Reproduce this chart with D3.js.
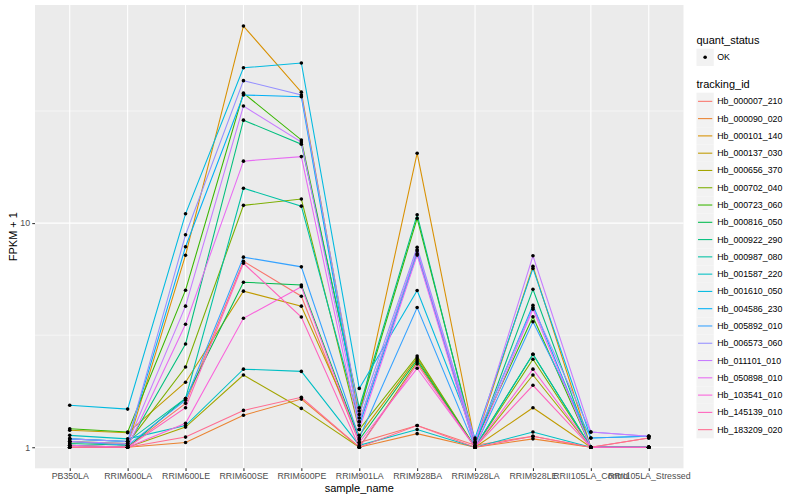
<!DOCTYPE html>
<html><head><meta charset="utf-8">
<script src="https://cdn.jsdelivr.net/npm/d3@7"></script>
<style>body{margin:0;background:#fff}svg text{font-family:"Liberation Sans",Arial,Helvetica,sans-serif}</style>
</head><body><svg id="chart" width="800" height="500"></svg>
<script>
const samples = ["PB350LA","RRIM600LA","RRIM600LE","RRIM600SE","RRIM600PE","RRIM901LA","RRIM928BA","RRIM928LA","RRIM928LE","RRII105LA_Control","RRII105LA_Stressed"];
const trackingIds = ["Hb_000007_210","Hb_000090_020","Hb_000101_140","Hb_000137_030","Hb_000656_370","Hb_000702_040","Hb_000723_060","Hb_000816_050","Hb_000922_290","Hb_000987_080","Hb_001587_220","Hb_001610_050","Hb_004586_230","Hb_005892_010","Hb_006573_060","Hb_011101_010","Hb_050898_010","Hb_103541_010","Hb_145139_010","Hb_183209_020"];
// FPKM + 1, one row per tracking_id, columns follow samples
const fpkmPlus1 = [
  [1.02,1.00,1.57, 6.76, 4.72,1.05,1.25,1.02,1.12,1.00,1.10],
  [1.00,1.00,1.05, 1.39, 1.64,1.00,1.15,1.00,1.09,1.00,1.00],
  [1.06,1.02,7.19,75.70,38.40,1.35,20.5,1.05,6.42,1.00,1.00],
  [1.19,1.16,1.95, 4.97, 4.26,1.13,2.50,1.00,1.50,1.00,1.00],
  [1.00,1.00,1.23, 2.10, 1.49,1.00,2.40,1.00,2.10,1.00,1.00],
  [1.06,1.04,2.28,12.00,12.80,1.20,2.55,1.00,2.47,1.00,1.00],
  [1.21,1.17,5.02,38.00,23.50,1.45,10.5,1.05,3.82,1.00,1.00],
  [1.02,1.00,1.65, 5.45, 5.29,1.08,2.45,1.00,2.60,1.00,1.00],
  [1.04,1.02,2.89,28.80,22.50,1.50,10.9,1.02,5.07,1.00,1.00],
  [1.09,1.06,1.65,14.30,11.90,1.30,7.50,1.00,2.60,1.00,1.00],
  [1.13,1.09,1.25, 2.23, 2.18,1.02,1.20,1.00,1.17,1.00,1.00],
  [1.54,1.48,11.0,49.30,51.80,1.83,5.00,1.10,6.28,1.10,1.12],
  [1.09,1.06,7.84,37.30,36.60,1.25,7.30,1.05,4.30,1.00,1.00],
  [1.06,1.02,1.62, 7.05, 6.38,1.10,4.20,1.00,3.63,1.10,1.12],
  [1.09,1.06,8.87,43.20,37.30,1.40,7.80,1.08,4.20,1.17,1.12],
  [1.06,1.04,4.26,33.30,23.00,1.30,7.60,1.05,7.15,1.17,1.12],
  [1.02,1.00,3.54,18.90,19.80,1.20,7.20,1.00,4.13,1.00,1.00],
  [1.00,1.00,1.28, 3.76, 5.20,1.05,2.25,1.00,2.23,1.00,1.00],
  [1.00,1.00,1.50, 6.62, 3.81,1.00,2.35,1.00,1.89,1.00,1.00],
  [1.00,1.00,1.11, 1.46, 1.67,1.00,1.25,1.00,1.12,1.00,1.10]
];
const yMajorTicks = [1, 10];
const yMinorTicks = [Math.sqrt(10), Math.sqrt(1000)];
const quantStatus = ["OK"];

const palette = ["#F8766D","#EA8331","#D89000","#C09B00","#A3A500","#7CAE00","#39B600","#00BB4E","#00BF7D","#00C1A3","#00BFC4","#00BAE0","#00B0F6","#35A2FF","#9590FF","#C77CFF","#E76BF3","#FA62DB","#FF62BC","#FF6C91"];

const svg = d3.select("#chart");
const P = {l:35, r:683.5, t:5, b:468.3};

const x = d3.scalePoint().domain(samples).range([P.l, P.r]).padding(0.6);
const allVals = fpkmPlus1.flat();
const lmin = Math.log10(d3.min(allVals)), lmax = Math.log10(d3.max(allVals));
const span = lmax - lmin;
const y = d3.scaleLog().domain([Math.pow(10, lmin - 0.05*span), Math.pow(10, lmax + 0.05*span)]).range([P.b, P.t]);

svg.append("rect").attr("x",P.l).attr("y",P.t).attr("width",P.r-P.l).attr("height",P.b-P.t).attr("fill","#EBEBEB");

const g = svg.append("g");
g.selectAll(".ymin").data(yMinorTicks).join("line")
  .attr("x1",P.l).attr("x2",P.r).attr("y1",d=>y(d)).attr("y2",d=>y(d))
  .attr("stroke","#fff").attr("stroke-width",0.55);
g.selectAll(".ymaj").data(yMajorTicks).join("line")
  .attr("x1",P.l).attr("x2",P.r).attr("y1",d=>y(d)).attr("y2",d=>y(d))
  .attr("stroke","#fff").attr("stroke-width",1.07);
g.selectAll(".xmaj").data(samples).join("line")
  .attr("x1",d=>x(d)).attr("x2",d=>x(d)).attr("y1",P.t).attr("y2",P.b)
  .attr("stroke","#fff").attr("stroke-width",1.07);

const series = trackingIds.map((id,i)=>({id, color: palette[i], vals: samples.map((s,j)=>({s, v: fpkmPlus1[i][j]}))}));
const line = d3.line().x(d=>x(d.s)).y(d=>y(d.v));
svg.append("g").selectAll("path").data(series).join("path")
  .attr("d", d=>line(d.vals)).attr("fill","none").attr("stroke",d=>d.color).attr("stroke-width",1.07);
svg.append("g").selectAll("circle").data(series.flatMap(d=>d.vals)).join("circle")
  .attr("cx",d=>x(d.s)).attr("cy",d=>y(d.v)).attr("r",1.8).attr("fill","#000");

// axes
const xAxis = d3.axisBottom(x).tickSize(2.75).tickPadding(2.2);
const xg = svg.append("g").attr("transform",`translate(0,${P.b})`).call(xAxis);
const yAxis = d3.axisLeft(y).tickValues(yMajorTicks).tickFormat(d3.format("d")).tickSize(2.75).tickPadding(2.2);
const yg = svg.append("g").attr("transform",`translate(${P.l},0)`).call(yAxis);
[xg,yg].forEach(a=>{
  a.select(".domain").remove();
  a.selectAll(".tick line").attr("stroke","#333333").attr("stroke-width",1.07);
  a.selectAll(".tick text").attr("fill","#4D4D4D").style("font-size","8.8px");
});

svg.append("text").attr("x",(P.l+P.r)/2).attr("y",492).attr("text-anchor","middle")
  .style("font-size","11px").attr("fill","#000").text("sample_name");
svg.append("text").attr("transform",`translate(13,${(P.t+P.b)/2}) rotate(-90)`).attr("text-anchor","middle")
  .attr("dominant-baseline","central").style("font-size","11px").attr("fill","#000").text("FPKM + 1");

// legends
const L = {x:696.5, key:17.28};
const lg = svg.append("g");
lg.append("text").attr("x",L.x).attr("y",44).style("font-size","11px").text("quant_status");
lg.selectAll(".qk").data(quantStatus).join("rect").attr("x",L.x).attr("y",(d,i)=>48.7+i*L.key)
  .attr("width",L.key).attr("height",L.key).attr("fill","#F2F2F2");
lg.selectAll(".qp").data(quantStatus).join("circle").attr("cx",L.x+L.key/2).attr("cy",(d,i)=>57.3+i*L.key)
  .attr("r",1.8).attr("fill","#000");
lg.selectAll(".ql").data(quantStatus).join("text").attr("x",L.x+L.key+3.5).attr("y",(d,i)=>57.3+i*L.key)
  .attr("dominant-baseline","central").style("font-size","8.8px").attr("fill","#000").text(d=>d);

lg.append("text").attr("x",L.x).attr("y",88).style("font-size","11px").text("tracking_id");
const ky = i => 92.7 + i*L.key;
lg.selectAll(".tk").data(series).join("rect").attr("x",L.x).attr("y",(d,i)=>ky(i))
  .attr("width",L.key).attr("height",L.key).attr("fill","#F2F2F2");
lg.selectAll(".tl").data(series).join("line").attr("x1",L.x+1.5).attr("x2",L.x+L.key-1.5)
  .attr("y1",(d,i)=>ky(i)+L.key/2).attr("y2",(d,i)=>ky(i)+L.key/2)
  .attr("stroke",d=>d.color).attr("stroke-width",1.07);
lg.selectAll(".tt").data(series).join("text").attr("x",L.x+L.key+3.5).attr("y",(d,i)=>ky(i)+L.key/2)
  .attr("dominant-baseline","central").style("font-size","8.8px").attr("fill","#000").text(d=>d.id);
</script></body></html>
